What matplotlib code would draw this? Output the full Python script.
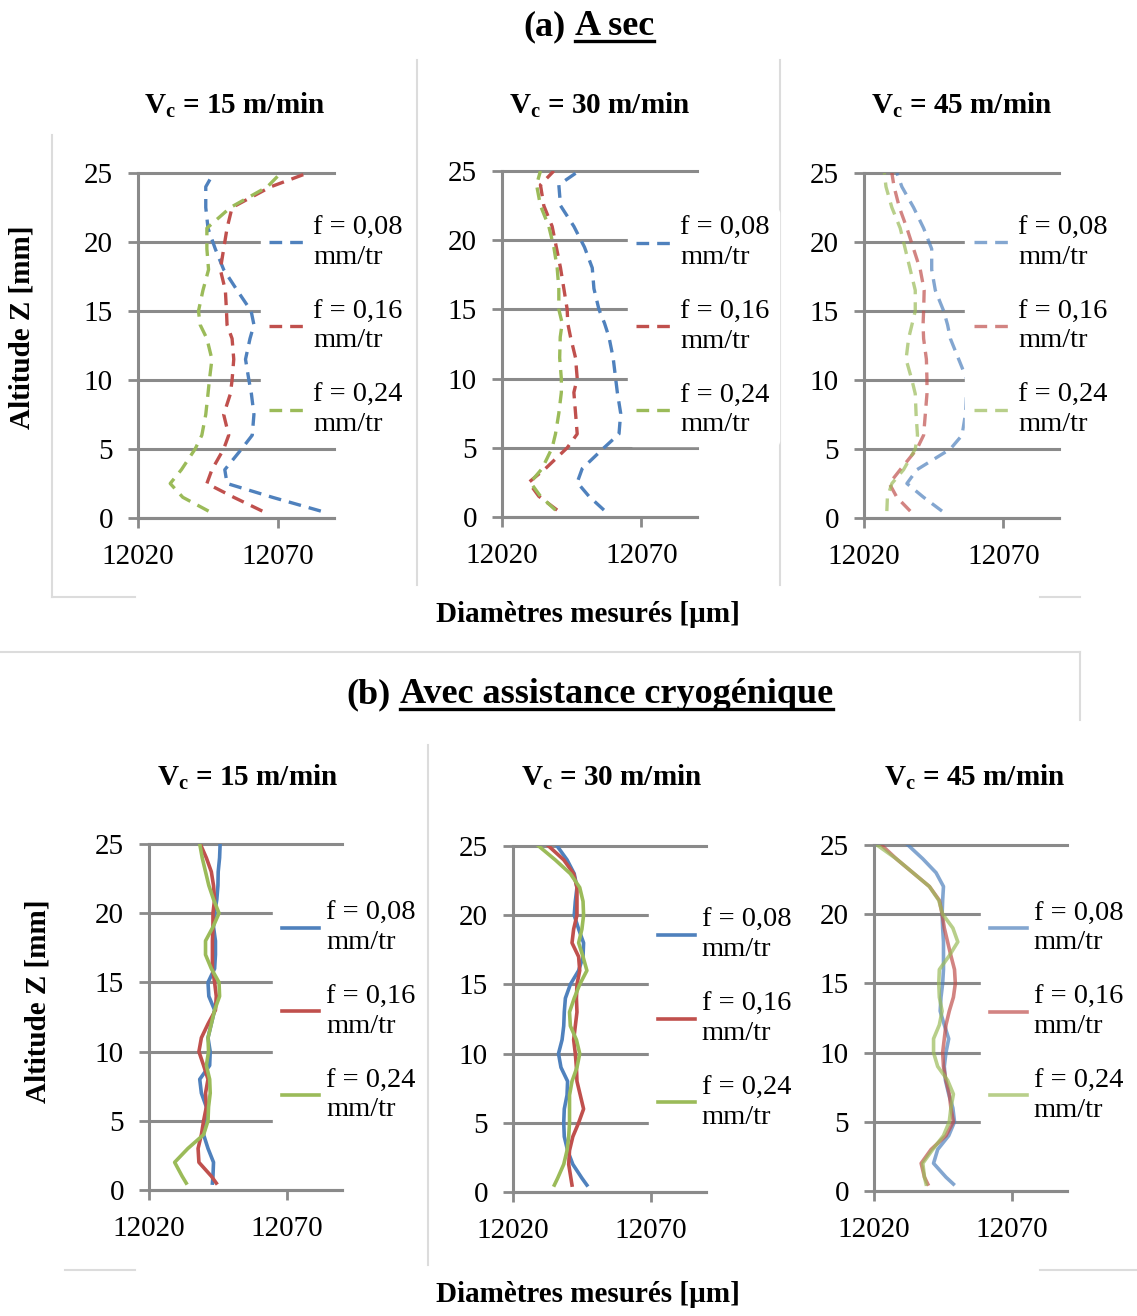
import matplotlib.pyplot as plt
from matplotlib.lines import Line2D

# Times-like font for everything
plt.rcParams['font.family'] = 'Liberation Serif'
plt.rcParams['mathtext.fontset'] = 'custom'
plt.rcParams['mathtext.rm'] = 'Liberation Serif'
plt.rcParams['mathtext.bf'] = 'Liberation Serif:bold'

# Altitudes (mm)
z_a = [0.5, 1.5, 2.5, 3.5, 5, 6, 7.5, 9, 10, 11.5, 13, 14, 15, 16.5, 18, 19.5, 21, 22.5, 24, 25]
z_b = [0.5, 1, 2, 3, 4, 5, 6, 7, 8, 9, 10, 11, 12, 13, 14, 15, 16, 17, 18, 19, 20, 21, 22, 23, 24, 25]

labels = ['f = 0,08\nmm/tr', 'f = 0,16\nmm/tr', 'f = 0,24\nmm/tr']
speeds = ['15', '30', '45']

# (a) dry - measured diameters (um)
a15_008 = [12085.3, 12068, 12051.8, 12051, 12057, 12060.8, 12061.4, 12060.5, 12059.6, 12058.4,
           12060, 12061.4, 12060.4, 12055.4, 12050.6, 12047.6, 12045, 12044.2, 12044.2, 12047]
a15_016 = [12064.4, 12054.2, 12044.6, 12046.4, 12050.6, 12052.4, 12050.6, 12053, 12053.6, 12054.2,
           12053.6, 12051.8, 12051.6, 12051.2, 12049.4, 12050.6, 12051.8, 12053.6, 12067.4, 12080.6]
a15_024 = [12045.2, 12036, 12031.5, 12035.5, 12040.4, 12042.8, 12044.2, 12045, 12045.5, 12046.4,
           12044.6, 12042.2, 12041.6, 12043.2, 12045.2, 12044.6, 12044.6, 12053, 12066.2, 12071]

a30_008 = [12056.6, 12051.2, 12047, 12048.8, 12056.6, 12062, 12062.6, 12061.4, 12060.8, 12059.9,
           12058.4, 12056.8, 12054.8, 12053, 12052.4, 12049.6, 12045.8, 12041, 12040.4, 12047.6]
a30_016 = [12039.8, 12033.2, 12029.6, 12035.6, 12043.4, 12047, 12046.4, 12045.8, 12047, 12046.4,
           12044.6, 12043.6, 12043.4, 12042.2, 12041, 12039.5, 12038, 12035, 12033.8, 12038.6]
a30_024 = [12039.2, 12033.8, 12030.2, 12034.4, 12038, 12039.2, 12040.4, 12041.3, 12041.3, 12040.7,
           12040.9, 12041.6, 12040.4, 12040.4, 12039.8, 12038.6, 12036.8, 12033.8, 12032.4, 12033.8]

a45_008 = [12048, 12041.4, 12035.4, 12039, 12051, 12055.2, 12056.4, 12056.8, 12057, 12054,
           12051, 12050, 12048.6, 12045.6, 12044.3, 12044.3, 12041.4, 12037.8, 12033.6, 12031.8]
a45_016 = [12036.6, 12031.8, 12029.1, 12033, 12039, 12041.4, 12042, 12042.6, 12042.6, 12042.4,
           12041.4, 12041.2, 12041.4, 12041.6, 12040.2, 12037.8, 12035.4, 12032.7, 12030.8, 12030]
a45_024 = [12028.2, 12028.4, 12030, 12034.2, 12038.4, 12039.2, 12038.7, 12038.4, 12037.2, 12035.1,
           12036, 12037.2, 12038.4, 12038.4, 12036.6, 12034.8, 12033, 12030, 12027.9, 12027.3]

# (b) cryogenic assistance
b15_008 = [12043, 12043.2, 12043.4, 12041.4, 12039.8, 12040.8, 12040.8, 12039, 12038.4, 12042, 12042.2,
           12041.4, 12042.6, 12043.8, 12041.7, 12041.4, 12043.8, 12044.1, 12044.1, 12043.4, 12043.8,
           12044.6, 12045, 12045.1, 12045.6, 12045.8]
b15_016 = [12044.4, 12042.6, 12038.1, 12037.8, 12039, 12039.8, 12040.8, 12040.5, 12041.4, 12039.8, 12038.1,
           12039, 12041.4, 12044.1, 12044.4, 12043.8, 12043, 12043, 12043, 12043.2, 12043.2,
           12043.8, 12043.4, 12042.6, 12040.8, 12038.6]
b15_024 = [12033.5, 12032, 12029.3, 12034.1, 12039.8, 12041.4, 12041.6, 12042.2, 12042, 12040.8, 12041.6,
           12041.4, 12042.6, 12043.8, 12045.6, 12045.4, 12042.6, 12040.5, 12040.5, 12043.2, 12045.4,
           12043.4, 12041.7, 12040.5, 12039.3, 12038.4]

b30_008 = [12046.8, 12045, 12041.7, 12039.8, 12038.6, 12038.4, 12038.6, 12039.6, 12039.8, 12037.4, 12036.5,
           12037.8, 12038.4, 12038.6, 12039, 12040.8, 12043.8, 12045.4, 12045.6, 12043.8, 12042.2,
           12042.6, 12043.2, 12042.2, 12039.6, 12036]
b30_016 = [12041.4, 12041, 12040.2, 12040.5, 12041.7, 12043.8, 12045.6, 12044.4, 12043.2, 12043, 12042.6,
           12042, 12042.6, 12043.2, 12043, 12043.2, 12044.2, 12043.8, 12041.4, 12042, 12043.2,
           12043.2, 12043.2, 12042, 12038.4, 12032.9]
b30_024 = [12035, 12036.2, 12038.4, 12039.6, 12040.2, 12040.5, 12040.5, 12040.5, 12041.4, 12043.2, 12044.2,
           12043, 12040.8, 12040.5, 12042.2, 12044.2, 12046.8, 12045.4, 12043.8, 12045, 12045.6,
           12045.4, 12044.2, 12040.8, 12035.3, 12029.3]

b45_008 = [12048.8, 12046.1, 12041.6, 12043.1, 12047.1, 12049.2, 12048.6, 12047.1, 12045.9, 12045.5, 12046.1,
           12047.1, 12045.5, 12044, 12044.3, 12044.9, 12045.2, 12045.2, 12045.2, 12044.9, 12044.7,
           12044.9, 12045.2, 12042.5, 12037.7, 12032.3]
b45_016 = [12039.5, 12038.3, 12037.1, 12040.7, 12046.1, 12048.8, 12047.9, 12047.3, 12046.1, 12045.2, 12044.9,
           12045.5, 12046.1, 12047.3, 12048.8, 12049.5, 12049.2, 12047.9, 12046.7, 12045.5, 12044.7,
           12043.7, 12040.1, 12034.1, 12028.1, 12022.7]
b45_024 = [12038.9, 12038.3, 12037.7, 12041.3, 12045.2, 12047.3, 12047.9, 12048.8, 12046.7, 12043.1, 12041.6,
           12041.6, 12043.7, 12044.7, 12043.7, 12043.5, 12043.7, 12047.3, 12050.4, 12048.6, 12044.9,
           12043.5, 12040.1, 12034.1, 12028.1, 12021.1]

colors = ['#4F81BD', '#C0504D', '#9BBB59']
grey = '#8a8a8a'

W, H = 1137, 1316
fig = plt.figure(figsize=(W / 100, H / 100), dpi=100)

# panel boxes in pixels: left, right, top, bottom ; legend anchor (x, y) in axes coords
panels = [
    ((138, 334, 173, 518), z_a, [a15_008, a15_016, a15_024], '--', 1.0, (0.625, 0.555)),
    ((502, 697, 171, 517), z_a, [a30_008, a30_016, a30_024], '--', 1.0, (0.645, 0.55)),
    ((864, 1059, 173, 518), z_a, [a45_008, a45_016, a45_024], '--', 0.7, (0.52, 0.555)),
    ((149, 342, 844, 1190), z_b, [b15_008, b15_016, b15_024], '-', 1.0, (0.645, 0.515)),
    ((513, 706, 846, 1192), z_b, [b30_008, b30_016, b30_024], '-', 1.0, (0.705, 0.50)),
    ((874, 1067, 845, 1191), z_b, [b45_008, b45_016, b45_024], '-', 0.7, (0.555, 0.517)),
]


def px(x, y):
    return x / W, 1 - y / H


# light separators of the original Excel charts (drawn below the axes)
seps = [((417, 60), (417, 585)), ((780, 60), (780, 585)), ((52, 135), (52, 597)),
        ((52, 597), (135, 597)), ((1040, 597), (1080, 597)), ((0, 652), (1080, 652)),
        ((1080, 652), (1080, 720)), ((428, 745), (428, 1265)), ((65, 1270), (135, 1270)),
        ((1040, 1270), (1137, 1270))]
for p0, p1 in seps:
    x0, y0 = px(*p0)
    x1, y1 = px(*p1)
    fig.add_artist(Line2D([x0, x1], [y0, y1], transform=fig.transFigure,
                          color='#dcdcdc', lw=1.5, zorder=-5))

for i, (box, z, series, ls, alpha, leg) in enumerate(panels):
    l, r, t, b = box
    ax = fig.add_axes([l / W, 1 - b / H, (r - l) / W, (b - t) / H])
    ax.set_facecolor('none')
    for vals, c, lab in zip(series, colors, labels):
        if ls == '--':
            ax.plot(vals, z, color=c, lw=2.4, ls=(0, (3.8, 2.4)), alpha=alpha, label=lab)
        else:
            ax.plot(vals, z, color=c, lw=2.6, ls='-', alpha=alpha, label=lab,
                    solid_joinstyle='round')
    ax.set_xlim(12020, 12090)
    ax.set_ylim(0, 25)
    ax.set_xticks([12020, 12070])
    ax.set_yticks([0, 5, 10, 15, 20, 25])
    ax.grid(axis='y', color=grey, lw=2.2)
    ax.set_axisbelow(True)
    for gl in ax.get_ygridlines():
        gl.set_clip_on(False)
    for s in ['top', 'right']:
        ax.spines[s].set_visible(False)
    for s in ['left', 'bottom']:
        ax.spines[s].set_color(grey)
        ax.spines[s].set_linewidth(2.2)
    ax.tick_params(color=grey, width=2, length=7, labelsize=21, labelcolor='black')
    ax.tick_params(axis='y', pad=11)
    ax.tick_params(axis='x', pad=12)
    ax.legend(loc='center left', bbox_to_anchor=leg, frameon=True, facecolor='white',
              edgecolor='white', framealpha=1, fontsize=20.5, handlelength=1.3,
              handletextpad=0.25, labelspacing=1.05, borderpad=0.3, borderaxespad=0)

# subtitles
sub_pos = [(235, 105), (600, 105), (962, 105), (248, 777), (612, 777), (975, 777)]
for k, (x, y) in enumerate(sub_pos):
    fx, fy = px(x, y)
    fig.text(fx, fy, r'V$_{\mathbf{c}}$ = ' + speeds[k % 3] + ' m/min', ha='center', va='center',
             fontsize=21, fontweight='bold')

# axis labels
for x, y in [(22, 327), (38, 1001)]:
    fx, fy = px(x, y)
    fig.text(fx, fy, 'Altitude Z [mm]', rotation=90, ha='center', va='center',
             fontsize=21, fontweight='bold')
for x, y in [(588, 615), (588, 1295)]:
    fx, fy = px(x, y)
    fig.text(fx, fy, 'Diamètres mesurés [µm]', ha='center', va='center',
             fontsize=21, fontweight='bold')

# main titles with underlined part
fig.canvas.draw()
renderer = fig.canvas.get_renderer()
for prefix, under, cx, base in [('(a)', 'A sec', 589, 35), ('(b)', 'Avec assistance cryogénique', 590, 703)]:
    t1 = fig.text(0, 0, prefix, fontsize=26, fontweight='bold', va='baseline')
    t2 = fig.text(0, 0, under, fontsize=26, fontweight='bold', va='baseline')
    w1 = t1.get_window_extent(renderer).width
    w2 = t2.get_window_extent(renderer).width
    gap = 9
    x0 = cx - (w1 + gap + w2) / 2
    t1.set_position(px(x0, base))
    t2.set_position(px(x0 + w1 + gap, base))
    ux0, uy = px(x0 + w1 + gap, base + 6)
    ux1, _ = px(x0 + w1 + gap + w2, base + 6)
    fig.add_artist(Line2D([ux0, ux1], [uy, uy], transform=fig.transFigure, color='black', lw=2.4))

fig.savefig('out.png', dpi=100)
